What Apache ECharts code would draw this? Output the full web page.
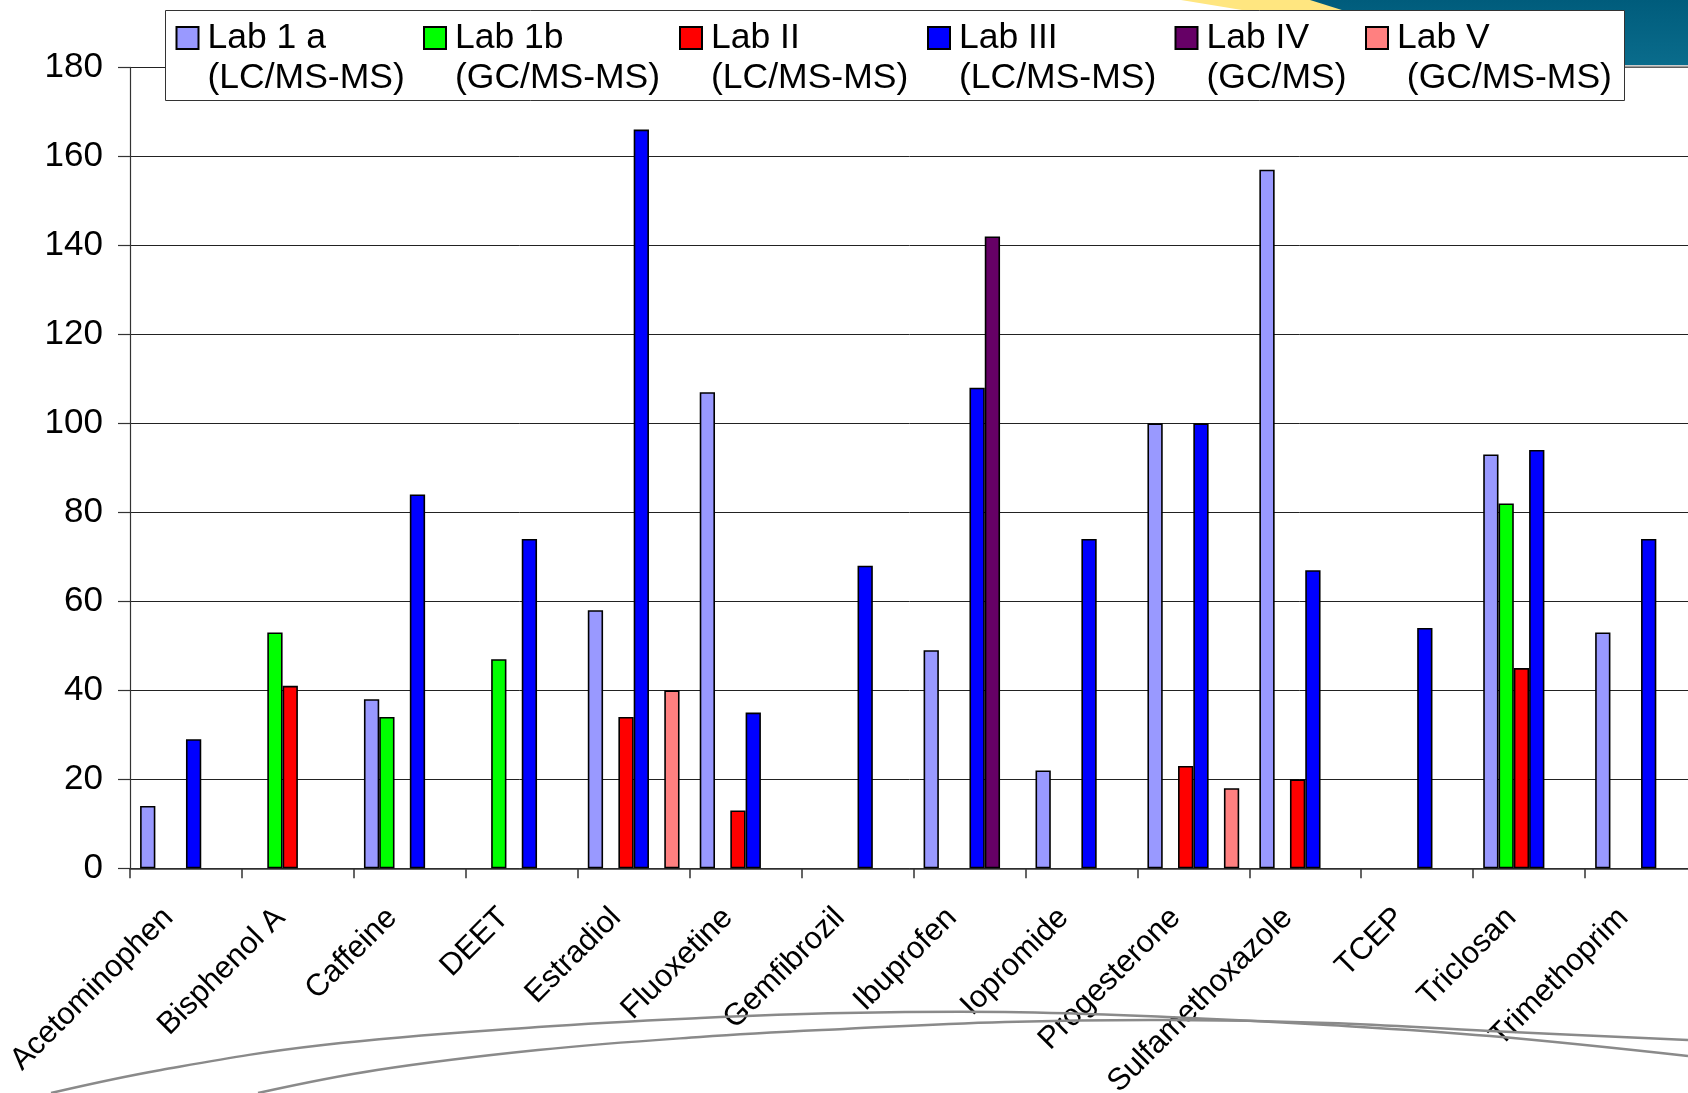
<!DOCTYPE html>
<html>
<head>
<meta charset="utf-8">
<style>
  html, body { margin: 0; padding: 0; background: #ffffff; }
  #chart { width: 1688px; height: 1093px; }
</style>
<script src="https://cdn.jsdelivr.net/npm/echarts@6/dist/echarts.min.js"></script>
</head>
<body>
<div id="chart"></div>
<script>
// Compounds measured
const categories = ['Acetominophen', 'Bisphenol A', 'Caffeine', 'DEET', 'Estradiol', 'Fluoxetine',
  'Gemfibrozil', 'Ibuprofen', 'Iopromide', 'Progesterone', 'Sulfamethoxazole', 'TCEP', 'Triclosan', 'Trimethoprim'];

// Laboratory names and their analytical methods
const labNames = ['Lab 1 a', 'Lab 1b', 'Lab II', 'Lab III', 'Lab IV', 'Lab V'];
const labMethods = ['(LC/MS-MS)', '(GC/MS-MS)', '(LC/MS-MS)', '(LC/MS-MS)', '(GC/MS)', ' (GC/MS-MS)'];

// Reported values per laboratory (null = not reported)
const lab1a = [14, null, 38, null, 58, 107, null, 49, 22, 100, 157, null, 93, 53];
const lab1b = [null, 53, 34, 47, null, null, null, null, null, null, null, null, 82, null];
const lab2  = [null, 41, null, null, 34, 13, null, null, null, 23, 20, null, 45, null];
const lab3  = [29, null, 84, 74, 166, 35, 68, 108, 74, 100, 67, 54, 94, 74];
const lab4  = [null, null, null, null, null, null, null, 142, null, null, null, null, null, null];
const lab5  = [null, null, null, null, 40, null, null, null, null, 18, null, null, null, null];

// Value axis ticks
const yTicks = [0, 20, 40, 60, 80, 100, 120, 140, 160, 180];

const labValues = [lab1a, lab1b, lab2, lab3, lab4, lab5];
const labColors = ['#9999ff', '#00ff00', '#ff0000', '#0000ff', '#660066', '#ff8080'];
const legendLeft = [175.5, 423, 679, 927, 1174.5, 1365];

const FONT = '"Liberation Sans", Arial, Helvetica, sans-serif';
const LEGEND_LINE = 40;
const SWATCH_OFFSET = 12;   // vertical centre of the swatch within the legend item

// Square swatch aligned with the first line of a two-line legend entry
const ICON_H = 2 * SWATCH_OFFSET + LEGEND_LINE;
const swatchIcon = 'path://M0,1L22,1L22,23L0,23Z M0,0L0,0 M26,' + ICON_H + 'L26,' + ICON_H;

const chart = echarts.init(document.getElementById('chart'), null, { renderer: 'canvas' });

const legends = labNames.map((name, i) => ({
  show: true,
  data: [name],
  left: legendLeft[i],
  top: 26 - LEGEND_LINE / 2 + 12,
  padding: 0,
  itemWidth: 26,
  itemHeight: ICON_H,
  icon: swatchIcon,
  selectedMode: false,
  formatter: n => n + '\n' + labMethods[labNames.indexOf(n)],
  textStyle: { fontFamily: FONT, fontSize: 35.5, lineHeight: LEGEND_LINE, color: '#000' }
}));

const series = labNames.map((name, i) => ({
  name: name,
  type: 'bar',
  data: labValues[i],
  barGap: '0%',
  barCategoryGap: '18%',
  itemStyle: { color: labColors[i], borderColor: '#000', borderWidth: 1.6 },
  emphasis: { disabled: true },
  animation: false
}));

const option = {
  backgroundColor: '#ffffff',
  animation: false,
  grid: { left: 130, right: -9, top: 67.3, bottom: 224.7, containLabel: false, outerBoundsMode: 'none' },
  legend: legends,
  xAxis: {
    type: 'category',
    data: categories,
    boundaryGap: true,
    axisLine: { show: true, lineStyle: { color: '#333', width: 1.5 } },
    axisTick: { show: true, length: 10, alignWithLabel: false, interval: 0, lineStyle: { color: '#333', width: 1.5 } },
    axisLabel: {
      interval: 0, rotate: 45, margin: 27, padding: [0, 25, 0, 0],
      fontFamily: FONT, fontSize: 31, color: '#000'
    },
    splitLine: { show: false }
  },
  yAxis: {
    type: 'value',
    min: yTicks[0],
    max: yTicks[yTicks.length - 1],
    interval: yTicks[1] - yTicks[0],
    axisLine: { show: true, lineStyle: { color: '#333', width: 1.2 } },
    axisTick: { show: true, inside: false, length: 12, lineStyle: { color: '#333', width: 1.2 } },
    axisLabel: { margin: 27, fontFamily: FONT, fontSize: 35, color: '#000' },
    splitLine: { show: true, lineStyle: { color: '#222', width: 1 } }
  },
  series: series,
  graphic: [
    // slide banner in the top-right corner
    { type: 'polygon', z: 1, shape: { points: [[1181, 0], [1318, 0], [1350, 11], [1248, 11]] },
      style: { fill: '#ffe680' } },
    { type: 'polygon', z: 1, shape: { points: [[1310, 0], [1688, 0], [1688, 65], [1560, 65], [1345, 11]] },
      style: { fill: new echarts.graphic.LinearGradient(0, 0, 0, 1, [
        { offset: 0, color: '#005c7c' }, { offset: 1, color: '#0a6c8c' }]) } },
    { type: 'line', z: 1, shape: { x1: 1560, y1: 66.5, x2: 1688, y2: 66.5 },
      style: { stroke: '#9a9a9a', lineWidth: 2 } },
    // legend frame
    { type: 'rect', z: 3, shape: { x: 165.5, y: 10.5, width: 1459, height: 90 },
      style: { fill: '#ffffff', stroke: '#333', lineWidth: 1 } },
    // decorative swooshes along the bottom
    { type: 'polyline', z: 1, shape: { smooth: 0.4, points: [[51, 1093], [161, 1070], [323, 1045], [538, 1027],
      [700, 1018], [844, 1013], [1005, 1012], [1167, 1017], [1328, 1025], [1490, 1036], [1688, 1056]] },
      style: { stroke: '#8a8a8a', lineWidth: 2.5, fill: null } },
    { type: 'polyline', z: 1, shape: { smooth: 0.4, points: [[258, 1093], [377, 1070], [538, 1050], [700, 1037],
      [844, 1029], [1005, 1022], [1167, 1020], [1328, 1023], [1490, 1031], [1688, 1040]] },
      style: { stroke: '#8a8a8a', lineWidth: 2.5, fill: null } }
  ]
};

chart.setOption(option);
</script>
</body>
</html>
